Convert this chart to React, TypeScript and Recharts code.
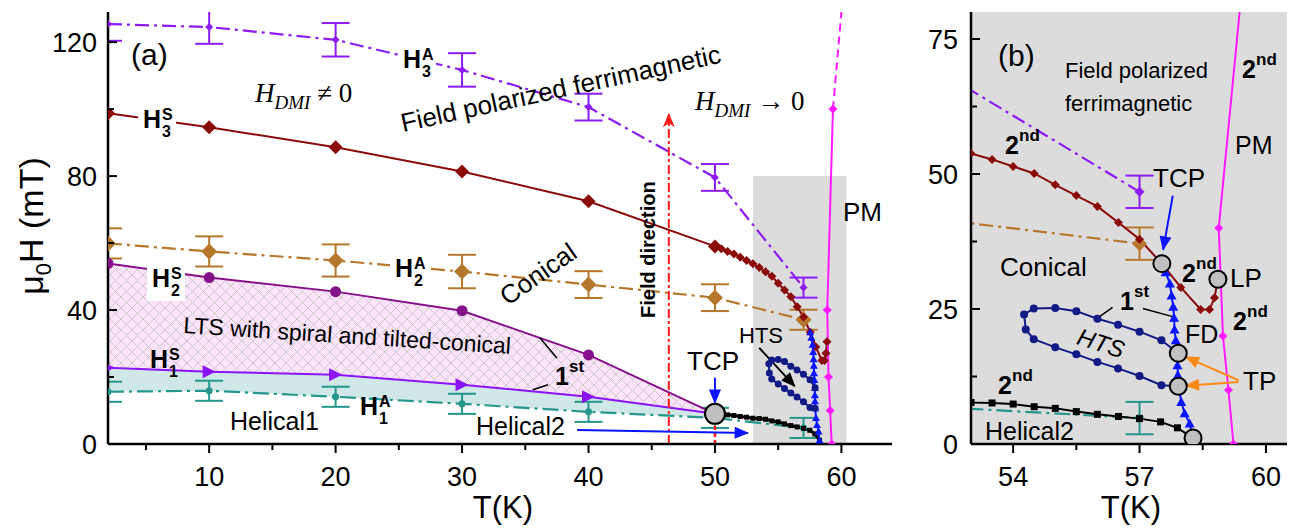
import React from 'react';
import {
  ComposedChart,
  Line,
  Area,
  XAxis,
  YAxis,
  ErrorBar,
  ReferenceArea,
  ReferenceLine,
} from 'recharts';

const SANS = '"Liberation Sans", Arial, Helvetica, sans-serif';
const SERIF = '"Liberation Serif", "Times New Roman", serif';

// phase boundaries, t = T (K), h = mu0H (mT), e = error
const h3Anis = [
  { t: 2, h: 125.4, e: 5 },
  { t: 10, h: 124.5, e: 5 },
  { t: 20, h: 120.7, e: 5 },
  { t: 30, h: 111.7, e: 5 },
  { t: 40, h: 100.6, e: 4 },
  { t: 50, h: 79.6, e: 4 },
  { t: 57, h: 46.7, e: 3 },
];

const h3Sat = [
  { t: 2, h: 98.8 }, { t: 10, h: 94.6 }, { t: 20, h: 88.6 }, { t: 30, h: 81.4 },
  { t: 40, h: 72.5 }, { t: 50, h: 59.0 }, { t: 50.5, h: 58.3 }, { t: 51, h: 57.5 },
  { t: 51.5, h: 56.7 }, { t: 52, h: 55.8 }, { t: 52.5, h: 54.8 }, { t: 53, h: 53.8 },
  { t: 53.5, h: 52.7 }, { t: 54, h: 51.4 }, { t: 54.5, h: 50.1 }, { t: 55, h: 48.0 },
  { t: 55.5, h: 46.0 }, { t: 56, h: 44.0 }, { t: 56.5, h: 41.0 }, { t: 57, h: 37.9 },
  { t: 57.53, h: 33.4 }, { t: 57.98, h: 29.0 }, { t: 58.45, h: 24.9 }, { t: 58.66, h: 24.9 },
  { t: 58.78, h: 27.1 }, { t: 58.86, h: 30.5 },
];

const h2Anis = [
  { t: 2, h: 59.9, e: 4.5 },
  { t: 10, h: 57.5, e: 4.5 },
  { t: 20, h: 54.8, e: 4.8 },
  { t: 30, h: 51.5, e: 5 },
  { t: 40, h: 47.6, e: 4 },
  { t: 50, h: 43.7, e: 4 },
  { t: 57, h: 37.1, e: 3 },
];

const h2Sat = [
  { t: 2, h: 53.9 }, { t: 10, h: 49.7 }, { t: 20, h: 45.5 },
  { t: 30, h: 39.8 }, { t: 40, h: 26.6 }, { t: 50, h: 9.0 },
];

const h1Sat = [
  { t: 2, h: 22.8 }, { t: 10, h: 21.6 }, { t: 20, h: 20.7 },
  { t: 30, h: 17.7 }, { t: 40, h: 14.1 }, { t: 50, h: 9.0 },
];

const h1Anis = [
  { t: 2, h: 15.6, e: 3 },
  { t: 10, h: 15.9, e: 3 },
  { t: 20, h: 14.1, e: 3 },
  { t: 30, h: 12.0, e: 3 },
  { t: 40, h: 9.6, e: 3 },
  { t: 50, h: 7.8, e: 3 },
  { t: 57, h: 4.8, e: 3 },
];

const helical2 = [
  { t: 50, h: 9.0 }, { t: 50.5, h: 8.9 }, { t: 51, h: 8.7 }, { t: 51.5, h: 8.5 },
  { t: 52, h: 8.2 }, { t: 52.5, h: 8.0 }, { t: 53, h: 7.7 }, { t: 53.5, h: 7.6 },
  { t: 54, h: 7.4 }, { t: 54.5, h: 6.9 }, { t: 55, h: 6.6 }, { t: 55.5, h: 6.0 },
  { t: 56, h: 5.5 }, { t: 56.5, h: 5.1 }, { t: 57, h: 4.7 }, { t: 57.5, h: 4.1 },
  { t: 57.9, h: 3.0 }, { t: 58.27, h: 1.1 },
];

const fdLine = [
  { t: 58.27, h: 1.1 }, { t: 58.19, h: 3.8 }, { t: 58.07, h: 5.7 }, { t: 57.99, h: 7.8 },
  { t: 57.93, h: 10.7 }, { t: 57.91, h: 12.8 }, { t: 57.9, h: 14.6 }, { t: 57.9, h: 16.8 },
  { t: 57.86, h: 19.2 }, { t: 57.83, h: 21.2 }, { t: 57.82, h: 23.4 }, { t: 57.8, h: 25.4 },
  { t: 57.76, h: 27.5 }, { t: 57.72, h: 29.7 }, { t: 57.62, h: 31.8 }, { t: 57.53, h: 33.4 },
];

const htsLoop = [
  { t: 57.92, h: 16.8 }, { t: 57.52, h: 19.2 }, { t: 57.0, h: 20.8 }, { t: 56.49, h: 22.1 },
  { t: 56.0, h: 23.2 }, { t: 55.5, h: 24.6 }, { t: 55.0, h: 25.2 }, { t: 54.49, h: 25.1 },
  { t: 54.26, h: 24.0 }, { t: 54.3, h: 21.2 }, { t: 54.49, h: 19.4 }, { t: 55.0, h: 17.9 },
  { t: 55.5, h: 16.6 }, { t: 56.0, h: 15.2 }, { t: 56.49, h: 14.0 }, { t: 57.0, h: 12.6 },
  { t: 57.52, h: 10.9 }, { t: 57.92, h: 10.7 },
];

const pmSolid = [
  { t: 59.23, h: 0 }, { t: 59.11, h: 10 }, { t: 58.98, h: 20 }, { t: 58.88, h: 40 }, { t: 59.33, h: 100 },
];
const pmDashed = [{ t: 59.33, h: 100 }, { t: 60.0, h: 129 }];
const pmSolidB = [
  { t: 59.23, h: 0 }, { t: 59.11, h: 10 }, { t: 58.98, h: 20 }, { t: 58.88, h: 40 }, { t: 59.4, h: 82 },
];

// special points (TCP, LP, TP, end point)
const specialA = [{ t: 50, h: 9.0 }];
const specialB = [
  { t: 57.53, h: 33.4 }, { t: 58.86, h: 30.5 }, { t: 57.92, h: 16.8 },
  { t: 57.92, h: 10.7 }, { t: 58.27, h: 1.1 },
];

// axis ticks
const xTicksA = [5, 10, 15, 20, 25, 30, 35, 40, 45, 50, 55, 60];
const xMajorA = [10, 20, 30, 40, 50, 60];
const yTicksA = [0, 20, 40, 60, 80, 100, 120];
const yMajorA = [0, 40, 80, 120];
const xTicksB = [54, 55.5, 57, 58.5, 60];
const xMajorB = [54, 57, 60];
const yTicksB = [0, 12.5, 25, 37.5, 50, 62.5, 75];
const yMajorB = [0, 25, 50, 75];

const ltsBand = h2Sat.map((p, i) => ({ t: p.t, r: [h1Sat[i].h, p.h] }));
const tealBand = h1Sat.map((p, i) => ({ t: p.t, r: [h1Anis[i].h, p.h] }));

const C = {
  violet: '#8c1cf2',
  wine: '#8b0a0a',
  brown: '#b5772c',
  purple: '#85118a',
  violet2: '#8a14f2',
  teal: '#26968c',
  blue: '#0a14ff',
  navy: '#121a86',
  magenta: '#ff1aff',
  orange: '#ff8a1a',
  red: '#ff1a1a',
  gray: '#dcdcdc',
};

const AXIS = { stroke: '#000', strokeWidth: 2.5 };

const tickText = { fontFamily: SANS, fontSize: 27, fill: '#000' };

const bottomTick = (majors: number[]) => (p: any) => {
  const v = p.payload.value;
  const major = majors.includes(v);
  return (
    <g key={`bt-${v}`}>
      <line x1={p.x} x2={p.x} y1={p.y} y2={p.y + (major ? 9 : 6)} stroke="#000" strokeWidth={2} />
      {major && (
        <text x={p.x} y={p.y + 42} textAnchor="middle" {...tickText}>{v}</text>
      )}
    </g>
  );
};

const topTick = (majors: number[]) => (p: any) => {
  const major = majors.includes(p.payload.value);
  return <line key={`tt-${p.payload.value}`} x1={p.x} x2={p.x} y1={p.y} y2={p.y + (major ? 9 : 6)} stroke="#000" strokeWidth={2} />;
};

const leftTick = (majors: number[], gap: number) => (p: any) => {
  const v = p.payload.value;
  const major = majors.includes(v);
  return (
    <g key={`lt-${v}`}>
      <line x1={p.x} x2={p.x + (major ? 9 : 6)} y1={p.y} y2={p.y} stroke="#000" strokeWidth={2} />
      {major && (
        <text x={p.x - gap} y={p.y + 10} textAnchor="end" {...tickText}>{v}</text>
      )}
    </g>
  );
};

const rightTick = (majors: number[]) => (p: any) => {
  const major = majors.includes(p.payload.value);
  return <line key={`rt-${p.payload.value}`} x1={p.x} x2={p.x - (major ? 9 : 6)} y1={p.y} y2={p.y} stroke="#000" strokeWidth={2} />;
};

type Kind = 'diamond' | 'circle' | 'square' | 'triR' | 'triU' | 'big';

const mark = (kind: Kind, size: number | ((t: number) => number), fill: string) => (p: any) => {
  const { cx, cy, index } = p;
  const key = `m-${kind}-${index}`;
  if (cx == null || cy == null || Number.isNaN(cx) || Number.isNaN(cy)) return <g key={key} />;
  const sz = typeof size === 'function' ? size(p.payload.t) : size;
  const s = sz / 2;
  if (kind === 'diamond')
    return <path key={key} d={`M${cx},${cy - s}L${cx + s},${cy}L${cx},${cy + s}L${cx - s},${cy}Z`} fill={fill} />;
  if (kind === 'square') return <rect key={key} x={cx - s} y={cy - s} width={sz} height={sz} fill={fill} />;
  if (kind === 'triR')
    return <path key={key} d={`M${cx - s},${cy - s}L${cx + s},${cy}L${cx - s},${cy + s}Z`} fill={fill} />;
  if (kind === 'triU')
    return <path key={key} d={`M${cx},${cy - s}L${cx + s},${cy + s * 0.8}L${cx - s},${cy + s * 0.8}Z`} fill={fill} />;
  if (kind === 'big')
    return <circle key={key} cx={cx} cy={cy} r={s} fill="#c0c0c0" stroke="#000" strokeWidth={2} />;
  return <circle key={key} cx={cx} cy={cy} r={s} fill={fill} />;
};

const seg = (color: string, w: number, head?: string, dash?: string) => (p: any) => (
  <line
    x1={p.x1}
    y1={p.y1}
    x2={p.x2}
    y2={p.y2}
    stroke={color}
    strokeWidth={w}
    strokeDasharray={dash}
    markerEnd={head ? `url(#${head})` : undefined}
  />
);

const arrowDefs = (s: string) => (
  <>
    <marker id={`hd-red-${s}`} viewBox="0 0 12 10" refX={11} refY={5} markerWidth={17} markerHeight={12}
      markerUnits="userSpaceOnUse" orient="auto">
      <path d="M0,0L12,5L0,10L3.5,5Z" fill={C.red} />
    </marker>
    <marker id={`hd-blue-${s}`} viewBox="0 0 12 10" refX={11} refY={5} markerWidth={15} markerHeight={12}
      markerUnits="userSpaceOnUse" orient="auto">
      <path d="M0,0L12,5L0,10Z" fill={C.blue} />
    </marker>
    <marker id={`hd-black-${s}`} viewBox="0 0 12 10" refX={11} refY={5} markerWidth={15} markerHeight={12}
      markerUnits="userSpaceOnUse" orient="auto">
      <path d="M0,0L12,5L0,10Z" fill="#000" />
    </marker>
    <marker id={`hd-orange-${s}`} viewBox="0 0 12 10" refX={11} refY={5} markerWidth={15} markerHeight={12}
      markerUnits="userSpaceOnUse" orient="auto">
      <path d="M0,0L12,5L0,10Z" fill={C.orange} />
    </marker>
  </>
);

const axisCommon = {
  type: 'number' as const,
  interval: 0 as const,
  allowDataOverflow: true,
  axisLine: AXIS,
  tickLine: false,
  tickSize: 0,
  tickMargin: 0,
};

const lineCommon = {
  type: 'linear' as const,
  dataKey: 'h',
  isAnimationActive: false,
  activeDot: false,
  legendType: 'none' as const,
};

// markers and error bars get cut at the frame, like the original plot
const clipCss = `
.panelA .clip .recharts-line-dots, .panelA .recharts-errorBars { clip-path: url(#plotClipA); }
.panelB .clip .recharts-line-dots, .panelB .recharts-errorBars { clip-path: url(#plotClipB); }
`;

function PanelA() {
  return (
    <ComposedChart width={900} height={528} margin={{ top: 12, right: 8, bottom: 24, left: 0 }}>
      <defs>
        <clipPath id="plotClipA">
          <rect x={108} y={12} width={784} height={432} />
        </clipPath>
        <pattern id="ltsHatch" width={11} height={11} patternUnits="userSpaceOnUse">
          <rect width={11} height={11} fill="#fde3fb" />
          <path d="M0,0L11,11M11,0L0,11" stroke="#c9c9c9" strokeWidth={1} />
        </pattern>
        {arrowDefs('a')}
      </defs>
      <XAxis {...axisCommon} dataKey="t" domain={[2, 64]} ticks={xTicksA} height={60} tick={bottomTick(xMajorA)} />
      <XAxis {...axisCommon} xAxisId="top" orientation="top" dataKey="t" domain={[2, 64]} ticks={xTicksA}
        height={0} tick={topTick(xMajorA)} />
      <YAxis {...axisCommon} domain={[0, 129]} ticks={yTicksA} width={108} tick={leftTick(yMajorA, 11)} />
      <YAxis {...axisCommon} yAxisId="r" orientation="right" domain={[0, 129]} ticks={yTicksA} width={0}
        tick={rightTick(yMajorA)} />

      <ReferenceArea x1={53} x2={60.4} y1={0} y2={80} fill={C.gray} fillOpacity={1} stroke="none" />

      <Area data={ltsBand} dataKey="r" type="linear" stroke="none" fill="url(#ltsHatch)" fillOpacity={1}
        isAnimationActive={false} activeDot={false} dot={false} legendType="none" />
      <Area data={tealBand} dataKey="r" type="linear" stroke="none" fill="#cfe8e7" fillOpacity={1}
        isAnimationActive={false} activeDot={false} dot={false} legendType="none" />

      <Line {...lineCommon} className="clip" data={h1Anis} stroke={C.teal} strokeWidth={2.2} strokeDasharray="16 5 3 5"
        dot={mark('circle', 7, C.teal)}>
        <ErrorBar dataKey="e" direction="y" width={14} stroke={C.teal} strokeWidth={2} isAnimationActive={false} />
      </Line>
      <Line {...lineCommon} className="clip" data={h1Sat} stroke={C.violet2} strokeWidth={2} dot={mark('triR', 13, C.violet2)} />
      <Line {...lineCommon} className="clip" data={h2Sat} stroke={C.purple} strokeWidth={2} dot={mark('circle', 11, C.purple)} />
      <Line {...lineCommon} className="clip" data={h2Anis} stroke={C.brown} strokeWidth={2.2} strokeDasharray="14 5 3 5"
        dot={mark('diamond', 16, C.brown)}>
        <ErrorBar dataKey="e" direction="y" width={14} stroke={C.brown} strokeWidth={2} isAnimationActive={false} />
      </Line>
      <Line {...lineCommon} className="clip" data={h3Sat} stroke={C.wine} strokeWidth={2}
        dot={mark('diamond', (t: number) => (t <= 50 ? 14 : 9), C.wine)} />
      <Line {...lineCommon} className="clip" data={h3Anis} stroke={C.violet} strokeWidth={2.2} strokeDasharray="14 5 3 5"
        dot={mark('diamond', 8, C.violet)}>
        <ErrorBar dataKey="e" direction="y" width={14} stroke={C.violet} strokeWidth={2} isAnimationActive={false} />
      </Line>
      <Line {...lineCommon} data={helical2} stroke="#000" strokeWidth={3} dot={mark('square', 5, '#000')} />
      <Line {...lineCommon} data={fdLine} stroke={C.blue} strokeWidth={2} dot={mark('triU', 8, C.blue)} />
      <Line {...lineCommon} data={htsLoop} stroke={C.navy} strokeWidth={2} dot={mark('circle', 7, C.navy)} />
      <Line {...lineCommon} className="clip" data={pmSolid} stroke={C.magenta} strokeWidth={2} dot={mark('diamond', 9, C.magenta)} />
      <Line {...lineCommon} data={pmDashed} stroke={C.magenta} strokeWidth={2} strokeDasharray="8 5" dot={false} />

      <ReferenceLine segment={[{ x: 46.35, y: 0 }, { x: 46.35, y: 98.5 }]} shape={seg(C.red, 2, 'hd-red-a', '9 3 3 3')} />
      <ReferenceLine segment={[{ x: 50, y: 0 }, { x: 50, y: 8 }]} shape={seg(C.red, 2.5, undefined, '4 3')} />
      <ReferenceLine segment={[{ x: 39.1, y: 4.2 }, { x: 52.6, y: 3.3 }]} shape={seg(C.blue, 2, 'hd-blue-a')} />
      <ReferenceLine segment={[{ x: 50, y: 19.8 }, { x: 50, y: 12.3 }]} shape={seg(C.blue, 2, 'hd-blue-a')} />
      <ReferenceLine segment={[{ x: 53.5, y: 28.7 }, { x: 56.3, y: 17.3 }]} shape={seg('#000', 2, 'hd-black-a')} />
      <ReferenceLine segment={[{ x: 37.5, y: 25.7 }, { x: 36.15, y: 31.7 }]} shape={seg('#000', 1.5)} />
      <ReferenceLine segment={[{ x: 36.8, y: 17.7 }, { x: 35.6, y: 16.2 }]} shape={seg('#000', 1.5)} />

      <Line {...lineCommon} data={specialA} stroke="none" dot={mark('big', 20, '#c0c0c0')} />
    </ComposedChart>
  );
}

function PanelB() {
  return (
    <ComposedChart width={419} height={528} margin={{ top: 12, right: 12, bottom: 24, left: 0 }}>
      <defs>
        <clipPath id="plotClipB">
          <rect x={91} y={12} width={316} height={432} />
        </clipPath>
        {arrowDefs('b')}
      </defs>
      <XAxis {...axisCommon} dataKey="t" domain={[53, 60.5]} ticks={xTicksB} height={60} tick={bottomTick(xMajorB)} />
      <XAxis {...axisCommon} xAxisId="top" orientation="top" dataKey="t" domain={[53, 60.5]} ticks={xTicksB}
        height={0} tick={topTick(xMajorB)} />
      <YAxis {...axisCommon} domain={[0, 80]} ticks={yTicksB} width={91} tick={leftTick(yMajorB, 13)} />
      <YAxis {...axisCommon} yAxisId="r" orientation="right" domain={[0, 80]} ticks={yTicksB} width={0}
        tick={rightTick(yMajorB)} />

      <ReferenceArea x1={53} x2={60.5} y1={0} y2={80} fill={C.gray} fillOpacity={1} stroke="none" />

      <Line {...lineCommon} className="clip" data={h1Anis} stroke={C.teal} strokeWidth={2.2} strokeDasharray="16 5 3 5"
        dot={mark('circle', 8, C.teal)}>
        <ErrorBar dataKey="e" direction="y" width={14} stroke={C.teal} strokeWidth={2} isAnimationActive={false} />
      </Line>
      <Line {...lineCommon} className="clip" data={h2Anis} stroke={C.brown} strokeWidth={2.2} strokeDasharray="14 5 3 5"
        dot={mark('diamond', 15, C.brown)}>
        <ErrorBar dataKey="e" direction="y" width={14} stroke={C.brown} strokeWidth={2} isAnimationActive={false} />
      </Line>
      <Line {...lineCommon} className="clip" data={h3Anis} stroke={C.violet} strokeWidth={2.2} strokeDasharray="14 5 3 5"
        dot={mark('diamond', 10, C.violet)}>
        <ErrorBar dataKey="e" direction="y" width={14} stroke={C.violet} strokeWidth={2} isAnimationActive={false} />
      </Line>
      <Line {...lineCommon} className="clip" data={h3Sat} stroke={C.wine} strokeWidth={2} dot={mark('diamond', 9, C.wine)} />
      <Line {...lineCommon} className="clip" data={helical2} stroke="#000" strokeWidth={2} dot={mark('square', 7, '#000')} />
      <Line {...lineCommon} data={htsLoop} stroke={C.navy} strokeWidth={2} dot={mark('circle', 8, C.navy)} />
      <Line {...lineCommon} data={fdLine} stroke={C.blue} strokeWidth={2} dot={mark('triU', 10, C.blue)} />
      <Line {...lineCommon} className="clip" data={pmSolidB} stroke={C.magenta} strokeWidth={2} dot={mark('diamond', 9, C.magenta)} />

      <ReferenceLine segment={[{ x: 57.79, y: 46 }, { x: 57.56, y: 36 }]} shape={seg(C.blue, 2, 'hd-blue-b')} />
      <ReferenceLine segment={[{ x: 56.36, y: 25.3 }, { x: 56.0, y: 23.3 }]} shape={seg('#000', 1.5)} />
      <ReferenceLine segment={[{ x: 57.08, y: 25.1 }, { x: 57.83, y: 23.5 }]} shape={seg('#000', 1.5)} />
      <ReferenceLine segment={[{ x: 59.35, y: 11.8 }, { x: 58.1, y: 16.1 }]} shape={seg(C.orange, 2, 'hd-orange-b')} />
      <ReferenceLine segment={[{ x: 59.35, y: 11.5 }, { x: 58.1, y: 10.8 }]} shape={seg(C.orange, 2, 'hd-orange-b')} />

      <Line {...lineCommon} data={specialB} stroke="none" dot={mark('big', 17, '#c0c0c0')} />
    </ComposedChart>
  );
}

function HLabel({ x, y, sub, sup, box }: { x: number; y: number; sub: string; sup: string; box?: boolean }) {
  return (
    <g fontFamily={SANS} fontWeight="bold" fill="#000">
      {box && <rect x={x - 5} y={y - 23} width={38} height={37} fill="#fff" />}
      <text x={x} y={y} fontSize={25}>H</text>
      <text x={x + 19} y={y - 8} fontSize={16}>{sup}</text>
      <text x={x + 19} y={y + 9} fontSize={16}>{sub}</text>
    </g>
  );
}

function Ord({ x, y, n, s }: { x: number; y: number; n: string; s: string }) {
  return (
    <g fontFamily={SANS} fontWeight="bold" fill="#000">
      <text x={x} y={y} fontSize={25}>{n}</text>
      <text x={x + 14} y={y - 13} fontSize={17}>{s}</text>
    </g>
  );
}

function Labels() {
  const t = { fontFamily: SANS, fill: '#000' };
  return (
    <svg width={1299} height={528} style={{ position: 'absolute', left: 0, top: 0, pointerEvents: 'none' }}>
      {/* panel (a) */}
      <text {...t} x={131} y={65} fontSize={30}>(a)</text>
      <text x={255} y={102} fontFamily={SERIF} fontSize={27} fontStyle="italic">
        H<tspan fontSize={19} dy={7}>DMI</tspan>
        <tspan fontStyle="normal" dy={-7}> ≠ 0</tspan>
      </text>
      <text x={695} y={110} fontFamily={SERIF} fontSize={27} fontStyle="italic">
        H<tspan fontSize={19} dy={7}>DMI</tspan>
        <tspan fontStyle="normal" dy={-7}> → 0</tspan>
      </text>
      <HLabel x={403} y={68} sub="3" sup="A" box />
      <HLabel x={143} y={128} sub="3" sup="S" box />
      <HLabel x={395} y={277} sub="2" sup="A" box />
      <HLabel x={152} y={287} sub="2" sup="S" box />
      <HLabel x={150} y={368} sub="1" sup="S" />
      <HLabel x={360} y={415} sub="1" sup="A" />
      <text {...t} x={403} y={132} fontSize={26} transform="rotate(-12.3 403 132)">Field polarized ferrimagnetic</text>
      <text {...t} x={538} y={274} fontSize={26} textAnchor="middle" dominantBaseline="central"
        transform="rotate(-35 538 274)">Conical</text>
      <text {...t} x={183} y={333} fontSize={23} transform="rotate(3.65 183 333)">LTS with spiral and tilted-conical</text>
      <Ord x={555} y={385} n="1" s="st" />
      <text {...t} x={655} y={318} fontSize={20} fontWeight="bold" transform="rotate(-90 655 318)">Field direction</text>
      <text {...t} x={843} y={221} fontSize={26}>PM</text>
      <text {...t} x={230} y={430} fontSize={25}>Helical1</text>
      <text {...t} x={476} y={435} fontSize={25}>Helical2</text>
      <text {...t} x={687} y={370} fontSize={26}>TCP</text>
      <text {...t} x={739} y={343} fontSize={22}>HTS</text>

      {/* panel (b) */}
      <text {...t} x={998} y={66} fontSize={30}>(b)</text>
      <text {...t} x={1065} y={78} fontSize={22}>Field polarized</text>
      <text {...t} x={1065} y={111} fontSize={22}>ferrimagnetic</text>
      <Ord x={1242} y={78} n="2" s="nd" />
      <text {...t} x={1235} y={154} fontSize={25}>PM</text>
      <Ord x={1005} y={154} n="2" s="nd" />
      <text {...t} x={1153} y={187} fontSize={26}>TCP</text>
      <text {...t} x={1000} y={276} fontSize={26}>Conical</text>
      <Ord x={1182} y={282} n="2" s="nd" />
      <text {...t} x={1230} y={287} fontSize={26}>LP</text>
      <Ord x={1120} y={310} n="1" s="st" />
      <text {...t} x={1185} y={343} fontSize={25}>FD</text>
      <Ord x={1233} y={330} n="2" s="nd" />
      <text {...t} x={1101} y={343} fontSize={24} fontStyle="italic" textAnchor="middle" dominantBaseline="central"
        transform="rotate(18 1101 343)">HTS</text>
      <text {...t} x={1243} y={390} fontSize={26}>TP</text>
      <Ord x={998} y={394} n="2" s="nd" />
      <text {...t} x={985} y={440} fontSize={25}>Helical2</text>

      {/* axis titles */}
      <text {...t} fontSize={34} textAnchor="middle" transform="translate(43 226) rotate(-90)">
        μ<tspan fontSize={22} dy={8}>0</tspan>
        <tspan dy={-8}>H (mT)</tspan>
      </text>
      <text {...t} x={503} y={518} fontSize={31} textAnchor="middle">T(K)</text>
      <text {...t} x={1131} y={518} fontSize={31} textAnchor="middle">T(K)</text>
    </svg>
  );
}

export default function App() {
  return (
    <div style={{ position: 'absolute', left: 0, top: 0, width: 1299, height: 528, background: '#fff' }}>
      <style>{clipCss}</style>
      <div className="panelA" style={{ position: 'absolute', left: 0, top: 0 }}>
        <PanelA />
      </div>
      <div className="panelB" style={{ position: 'absolute', left: 880, top: 0 }}>
        <PanelB />
      </div>
      <Labels />
    </div>
  );
}
